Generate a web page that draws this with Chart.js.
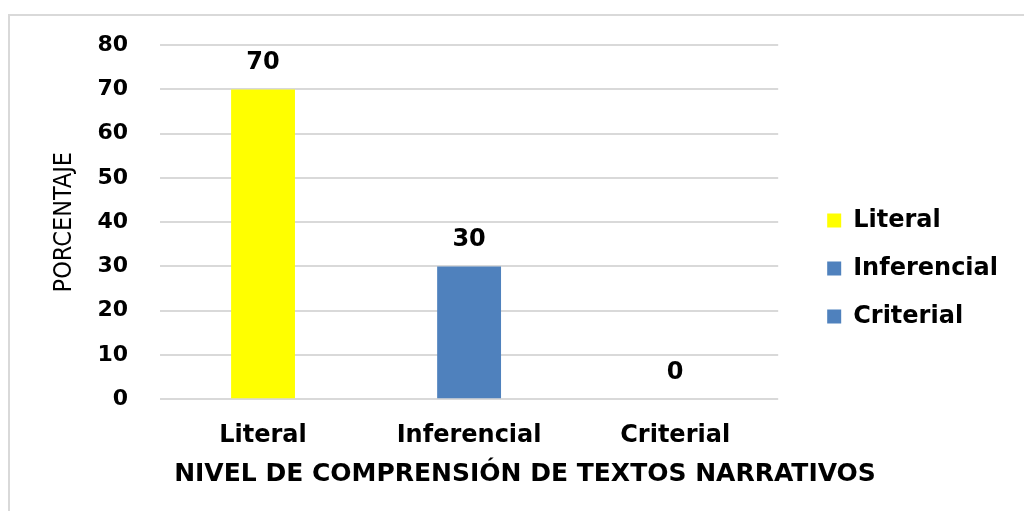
<!DOCTYPE html>
<html>
<head>
<meta charset="utf-8">
<script src="https://cdn.jsdelivr.net/npm/chart.js@4.4.0/dist/chart.umd.min.js"></script>
<style>
  html, body { margin: 0; padding: 0; background: #fff; overflow: hidden; }
  #wrap { position: relative; width: 1024px; height: 511px; }
  #frame { position: absolute; left: 8px; top: 14px; width: 1100px; height: 600px; border: 2px solid #d9d9d9; }
  canvas { position: absolute; left: 0; top: 0; }
</style>
</head>
<body>
<div id="wrap">
  <div id="frame"></div>
  <canvas id="myChart" width="1024" height="511"></canvas>
</div>
<script>
// Data
var categories = ['Literal', 'Inferencial', 'Criterial'];
var values = [70, 30, 0];
var barColors = ['#ffff00', '#4f81bd', '#4f81bd'];
var yTicks = [0, 10, 20, 30, 40, 50, 60, 70, 80];
var xTitle = 'NIVEL DE COMPRENSIÓN DE TEXTOS NARRATIVOS';

// draws the value above each bar, and the x title (wider than the plot, so not the scale title)
var valueLabels = {
	id: 'valueLabels',
	afterDatasetsDraw: function(chart) {
		var ctx = chart.ctx;
		ctx.save();
		ctx.font = 'bold 24px "DejaVu Sans"';
		ctx.fillStyle = '#000';
		ctx.textAlign = 'center';
		ctx.textBaseline = 'alphabetic';
		chart.getDatasetMeta(0).data.forEach(function(bar, i) {
			ctx.fillText(String(values[i]), bar.x, bar.y - 20);
		});
		ctx.font = 'bold 25px "DejaVu Sans"';
		ctx.textBaseline = 'middle';
		ctx.fillText(xTitle, chart.width / 2 + 13, chart.chartArea.bottom + 75);
		ctx.restore();
	}
};

var ctx = document.getElementById('myChart').getContext('2d');
var myChart = new Chart(ctx, {
	type: 'bar',
	data: {
		labels: categories,
		datasets: [{
			label: 'Porcentaje',
			data: values,
			backgroundColor: barColors,
			borderWidth: 0,
			categoryPercentage: 1,
			barPercentage: 0.31
		}]
	},
	options: {
		responsive: false,
		devicePixelRatio: 1,
		animation: false,
		layout: {
			padding: { left: 45, top: 32, right: 16, bottom: 47 }
		},
		plugins: {
			tooltip: { enabled: false },
			legend: {
				position: 'right',
				maxWidth: 230,
				title: { display: true, text: ' ', padding: { top: 29, bottom: 0 }, font: { size: 10 } },
				labels: {
					color: '#000',
					font: { family: 'DejaVu Sans', size: 24, weight: 'bold' },
					boxWidth: 14,
					boxHeight: 14,
					padding: 24,
					generateLabels: function(chart) {
						return categories.map(function(c, i) {
							return { text: c, fillStyle: barColors[i], strokeStyle: barColors[i], fontColor: '#000', lineWidth: 0, index: i };
						});
					}
				}
			}
		},
		scales: {
			x: {
				grid: { display: false },
				border: { display: false },
				ticks: {
					color: '#000',
					padding: 14,
					font: { family: 'DejaVu Sans', size: 24, weight: 'bold' }
				}
			},
			y: {
				min: 0,
				max: 80,
				afterBuildTicks: function(scale) {
					scale.ticks = yTicks.map(function(v) { return { value: v }; });
				},
				afterFit: function(scale) {
					scale.width = 115;
				},
				grid: { color: '#d9d9d9', lineWidth: 2, drawTicks: false },
				border: { display: false },
				ticks: {
					color: '#000',
					padding: 32,
					font: { family: 'DejaVu Sans', size: 22, weight: 'bold' }
				},
				title: {
					display: true,
					text: 'PORCENTAJE',
					color: '#000',
					padding: { top: 4, bottom: 4 },
					font: { family: 'DejaVu Sans Condensed', size: 25 }
				}
			},
			// empty axis, only leaves a gap between the plot and the legend
			gap: {
				position: 'right',
				display: true,
				grid: { display: false },
				border: { display: false },
				ticks: { display: false },
				afterFit: function(scale) {
					scale.width = 25;
				}
			}
		}
	},
	plugins: [valueLabels]
});
</script>
</body>
</html>
